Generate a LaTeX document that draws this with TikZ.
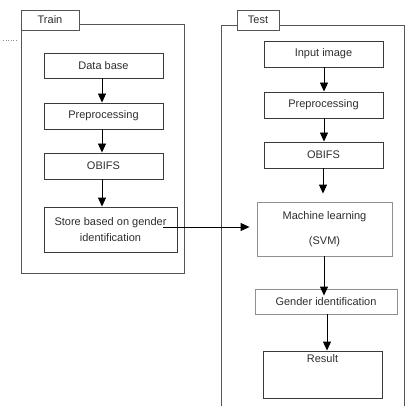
\documentclass[tikz,border=0pt]{standalone}
\usepackage{fontspec}
\setmainfont{Liberation Sans}
\usetikzlibrary{arrows.meta,calc}
\definecolor{boxline}{HTML}{3A3A3A}
\definecolor{frameline}{HTML}{555555}
\definecolor{lightline}{HTML}{909090}
\definecolor{txt}{HTML}{2E2E2E}
\tikzset{
  px/.style={x=1pt,y=-1pt},
  stepbox/.style={draw=boxline, line width=0.9pt, fill=white, text=txt, font=\fontsize{11}{13}\selectfont, inner sep=0pt, align=center},
  lightbox/.style={stepbox, draw=lightline},
  frame/.style={draw=frameline, line width=0.9pt},
  titlebox/.style={draw=frameline, line width=0.9pt, fill=white, text=txt, font=\fontsize{11}{13}\selectfont, inner sep=0pt},
  arr/.style={draw=black, line width=0.9pt, -{Triangle[length=9pt,width=8pt]}}
}
\begin{document}
\begin{tikzpicture}[px]
\useasboundingbox (0,0) rectangle (406,406);
\fill[white] (0,0) rectangle (406,406);
% stray dotted mark
\draw[lightline, dotted, line width=0.6pt] (3,40) -- (17,40);
% Train frame
\node[frame, minimum width=163pt, minimum height=249pt] (trainframe) at (102.5,148.5) {};
\node[titlebox, minimum width=58pt, minimum height=20pt] (train) at (50,20) {Train};
% Test frame (open at bottom)
\coordinate (tfbl) at (221,406);
\coordinate (tftl) at (221,25);
\coordinate (tftr) at (404,25);
\coordinate (tfbr) at (404,406);
\draw[frame] (tfbl) -- (tftl) -- (tftr) -- (tfbr);
\node[titlebox, minimum width=42pt, minimum height=20pt] (test) at (258,20) {Test};
% Train boxes
\node[stepbox, minimum width=119pt, minimum height=25pt] (db) at (103.5,65.5) {Data base};
\node[stepbox, minimum width=119pt, minimum height=26pt] (pre1) at (103.5,116) {Preprocessing};
\node[stepbox, minimum width=119pt, minimum height=26pt] (obifs1) at (103.5,166) {OBIFS};
\node[stepbox, minimum width=133pt, minimum height=45pt, font=\fontsize{11}{16}\selectfont] (store) at (110.5,229.5) {Store based on gender\\identification};
% Test boxes
\node[stepbox, minimum width=119pt, minimum height=26pt] (input) at (323.5,54) {Input image};
\node[stepbox, minimum width=119pt, minimum height=26pt] (pre2) at (323.5,105) {Preprocessing};
\node[stepbox, minimum width=119pt, minimum height=26pt] (obifs2) at (323.5,155) {OBIFS};
\node[lightbox, minimum width=135pt, minimum height=54pt] (ml) at (324.5,229) {Machine learning\\[12pt](SVM)};
\node[lightbox, minimum width=142pt, minimum height=25pt] (gender) at (326,301.5) {Gender identification};
\node[stepbox, minimum width=119pt, minimum height=47pt,
      label={[anchor=north, yshift=-4pt, text=txt, font=\fontsize{11}{13}\selectfont, inner sep=0pt]north:Result}] (result) at (322.5,374.5) {};
% Train arrows
\draw[arr] (db.south -| 102,0) -- (pre1.north -| 102,0);
\draw[arr] (pre1.south -| 102,0) -- (obifs1.north -| 102,0);
\draw[arr] (obifs1.south -| 102,0) -- (store.north -| 102,0);
% cross arrow
\coordinate (s0) at (163,227);
\draw[arr, shorten >=7pt] (s0) -- (s0 -| ml.west);
% Test arrows
\draw[arr] (input.south -| 324,0) -- (pre2.north -| 324,0);
\draw[arr] (pre2.south -| 324,0) -- (obifs2.north -| 324,0);
\draw[arr, shorten >=8pt] (obifs2.south -| 323,0) -- (ml.north -| 323,0);
\draw[arr, shorten >=-7pt] (ml.south -| 324,0) -- (gender.north -| 324,0);
\draw[arr] (gender.south -| 327,0) -- (result.north -| 327,0);
\end{tikzpicture}
\end{document}
